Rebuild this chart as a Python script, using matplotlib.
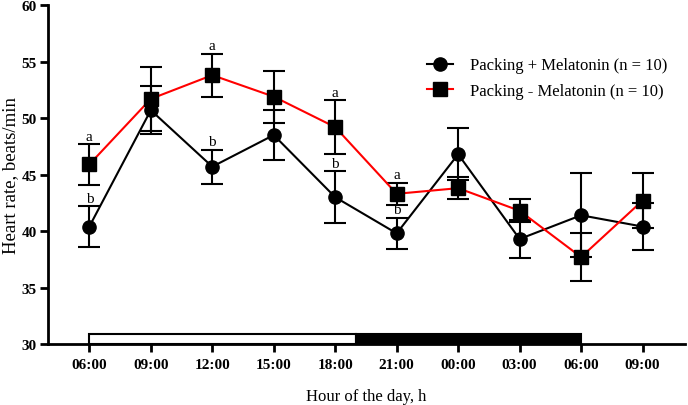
import numpy as np
import matplotlib.pyplot as plt
from matplotlib.patches import Rectangle

# hour labels on the x axis (3 h steps, one full day + 3 h)
hours = ['06:00', '09:00', '12:00', '15:00', '18:00', '21:00', '00:00', '03:00', '06:00', '09:00']

# Packing + Melatonin (circles, black line)
mel_mean = [40.4, 50.7, 45.7, 48.5, 43.0, 39.8, 46.8, 39.3, 41.4, 40.4]
mel_err = [1.8, 2.1, 1.5, 2.2, 2.3, 1.4, 2.3, 1.7, 3.7, 2.1]

# Packing - Melatonin (squares, red line)
ctl_mean = [45.9, 51.7, 53.8, 51.9, 49.2, 43.3, 43.8, 41.8, 37.7, 42.7]
ctl_err = [1.8, 2.8, 1.9, 2.3, 2.4, 1.0, 1.0, 1.0, 2.1, 2.4]

# significance letters by point index
letters_ctl = {0: 'a', 2: 'a', 4: 'a', 5: 'a'}
letters_mel = {0: 'b', 2: 'b', 4: 'b', 5: 'b'}

# light / dark bar (x index units): light 06:00 -> 19:00, dark 19:00 -> 06:00
light_start, lights_off, dark_end = 0, 13 / 3, 8

plt.rcParams['font.family'] = ['Liberation Serif', 'DejaVu Serif']

fig = plt.figure(figsize=(6.88, 4.06), dpi=100)
ax = fig.add_axes([0.0698, 0.150, 0.9258, 0.835])

x = np.arange(len(hours))

ax.errorbar(x, mel_mean, yerr=mel_err, fmt='none', ecolor='black',
            elinewidth=1.5, capsize=8, capthick=1.5, zorder=2)
ax.plot(x, mel_mean, color='black', lw=1.5, marker='o', ms=9.5,
        mfc='black', mec='black', zorder=3, label='Packing + Melatonin (n = 10)')

ax.errorbar(x, ctl_mean, yerr=ctl_err, fmt='none', ecolor='black',
            elinewidth=1.5, capsize=8, capthick=1.5, zorder=4)
ax.plot(x, ctl_mean, color='red', lw=1.5, marker='s', ms=9.5,
        mfc='black', mec='black', zorder=5, label='Packing - Melatonin (n = 10)')

for i, s in letters_ctl.items():
    ax.text(x[i], ctl_mean[i] + ctl_err[i] + 0.12, s, ha='center', va='bottom', fontsize=11)
for i, s in letters_mel.items():
    ax.text(x[i], mel_mean[i] + mel_err[i] + 0.12, s, ha='center', va='bottom', fontsize=11)

# light/dark bar along the bottom
ax.add_patch(Rectangle((light_start, 30), lights_off - light_start, 0.85,
                       facecolor='white', edgecolor='black', lw=1.5, zorder=1, clip_on=False))
ax.add_patch(Rectangle((lights_off, 30), dark_end - lights_off, 0.85,
                       facecolor='black', edgecolor='black', lw=1.5, zorder=1, clip_on=False))

ax.set_xlim(-0.672, 9.69)
ax.set_ylim(30, 60)
ax.set_yticks(np.arange(30, 61, 5))
ax.set_xticks(x)
ax.set_xticklabels(hours)

for side in ['top', 'right']:
    ax.spines[side].set_visible(False)
for side in ['left', 'bottom']:
    ax.spines[side].set_linewidth(2)
ax.tick_params(width=2, length=6, labelsize=11, pad=2)
ax.tick_params(axis='x', pad=4)
for lab in ax.get_xticklabels() + ax.get_yticklabels():
    lab.set_fontweight('bold')

ax.set_ylabel('Heart rate, beats/min', fontsize=13.5)
ax.yaxis.set_label_coords(-0.045, 0.5)
ax.set_xlabel('Hour of the day, h', fontsize=12, labelpad=12)

ax.legend(loc='center left', bbox_to_anchor=(0.571, 0.785), frameon=False,
          fontsize=12, handlelength=1.6, handletextpad=1.0, labelspacing=0.55)

fig.savefig('out.png', dpi=100)
